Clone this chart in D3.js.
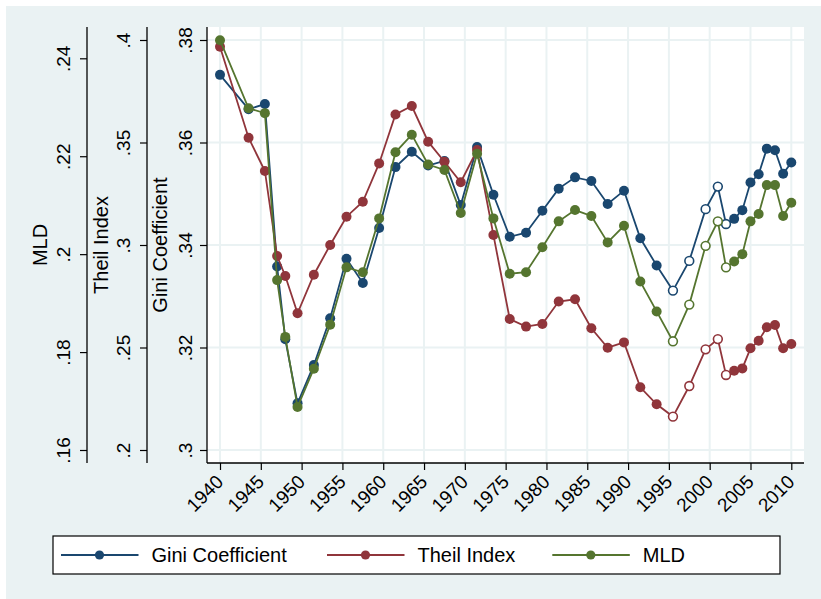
<!DOCTYPE html>
<html><head><meta charset="utf-8">
<script src="https://cdn.jsdelivr.net/npm/d3@7"></script>
<style>
body{margin:0;background:#fff}
svg{display:block}
text{font-family:"Liberation Sans", Arial, Helvetica, sans-serif; fill:#000}
</style>
</head><body>
<svg id="c" width="821" height="599"></svg>
<script>
// ---- data ----
const years = [1940, 1943.5, 1945.5, 1947, 1948, 1949.5, 1951.5, 1953.5, 1955.5, 1957.5, 1959.5, 1961.5,
  1963.5, 1965.5, 1967.5, 1969.5, 1971.5, 1973.5, 1975.5, 1977.5, 1979.5, 1981.5, 1983.5, 1985.5,
  1987.5, 1989.5, 1991.5, 1993.5, 1995.5, 1997.5, 1999.5, 2001, 2002, 2003, 2004, 2005, 2006, 2007,
  2008, 2009, 2010];
const gini = [0.3732, 0.3665, 0.3675, 0.3358, 0.3216, 0.3091, 0.3166, 0.3257, 0.3373, 0.3326, 0.3433, 0.3552,
  0.3582, 0.3555, 0.3564, 0.3478, 0.3591, 0.3498, 0.3416, 0.3424, 0.3467, 0.3510, 0.3532, 0.3525,
  0.3480, 0.3506, 0.3413, 0.3360, 0.3311, 0.3369, 0.3470, 0.3514, 0.3441, 0.3451, 0.3468, 0.3522, 0.3538, 0.3588,
  0.3585, 0.3539, 0.3561];
const theil = [0.3967, 0.3523, 0.3361, 0.2946, 0.2849, 0.2667, 0.2855, 0.3000, 0.3138, 0.3211, 0.3398, 0.3637,
  0.3678, 0.3504, 0.3406, 0.3306, 0.3463, 0.3049, 0.2639, 0.2602, 0.2615, 0.2724, 0.2735, 0.2594,
  0.2499, 0.2525, 0.2306, 0.2223, 0.2163, 0.2312, 0.2491, 0.2541, 0.2366, 0.2387, 0.2398, 0.2496, 0.2533, 0.2599,
  0.2610, 0.2496, 0.2517];
const mld = [0.2437, 0.2298, 0.2288, 0.1947, 0.1831, 0.1688, 0.1766, 0.1856, 0.1973, 0.1963, 0.2073, 0.2208,
  0.2244, 0.2183, 0.2172, 0.2084, 0.2205, 0.2073, 0.1960, 0.1963, 0.2014, 0.2067, 0.2090, 0.2078,
  0.2024, 0.2058, 0.1944, 0.1883, 0.1822, 0.1897, 0.2017, 0.2067, 0.1973, 0.1985, 0.2000, 0.2067, 0.2082, 0.2141,
  0.2141, 0.2078, 0.2105];
const hollowYears = [1995.5, 1997.5, 1999.5, 2001, 2002];
const xTicks = [1940, 1945, 1950, 1955, 1960, 1965, 1970, 1975, 1980, 1985, 1990, 1995, 2000, 2005, 2010];
const giniTicks = [0.30, 0.32, 0.34, 0.36, 0.38];
const theilTicks = [0.2, 0.25, 0.3, 0.35, 0.4];
const mldTicks = [0.16, 0.18, 0.2, 0.22, 0.24];
const seriesNames = ["Gini Coefficient", "Theil Index", "MLD"];
const seriesColors = ["#1a476f", "#90353b", "#55752f"];

// ---- layout ----
const svg = d3.select("#c");
const P = {left: 207, right: 804, top: 27, bottom: 463};
const bg = "#EAF2F3";
svg.append("rect").attr("x", 6).attr("y", 6).attr("width", 815).attr("height", 593).attr("fill", bg);
svg.append("rect").attr("x", P.left).attr("y", P.top).attr("width", P.right - P.left)
  .attr("height", P.bottom - P.top).attr("fill", "#fff");

const x = d3.scaleLinear().domain([1940, 2010]).range([220, 791.3]);
const yG = d3.scaleLinear().domain([0.30, 0.38]).range([450, 40]);
const yT = d3.scaleLinear().domain([0.2, 0.4]).range([450, 40]);
const yM = d3.scaleLinear().domain([0.16, 0.24]).range([450, 58.3]);

// grid
const grid = svg.append("g").attr("stroke", "#EAF2F3").attr("stroke-width", 2);
grid.selectAll(".v").data(xTicks).join("line")
  .attr("x1", d => x(d)).attr("x2", d => x(d)).attr("y1", P.top).attr("y2", P.bottom);
grid.selectAll(".h").data(giniTicks).join("line")
  .attr("x1", P.left).attr("x2", P.right).attr("y1", d => yG(d)).attr("y2", d => yG(d));

const fmt = d => d3.format("~g")(d).replace(/^0\./, ".");

function yAxis(scale, ticks, xPos, labelOff, title, titleBase) {
  const g = svg.append("g").attr("transform", `translate(${xPos},0)`)
    .call(d3.axisLeft(scale).tickValues(ticks).tickSize(7).tickSizeOuter(0).tickFormat(fmt));
  g.select(".domain").remove();
  g.selectAll(".tick line").attr("stroke", "#000").attr("stroke-width", 1.2);
  g.selectAll(".tick text").attr("transform", "rotate(-90)").attr("x", 0).attr("y", labelOff)
    .attr("dy", null).attr("text-anchor", "middle").attr("font-size", 19)
    .attr("font-family", "Liberation Sans, Arial, sans-serif").attr("fill", "#000");
  g.append("line").attr("x1", 0).attr("x2", 0).attr("y1", P.top).attr("y2", P.bottom)
    .attr("stroke", "#000").attr("stroke-width", 1.3);
  svg.append("text").attr("transform", `translate(${titleBase},245) rotate(-90)`)
    .attr("text-anchor", "middle").attr("font-size", 20).text(title);
}
yAxis(yM, mldTicks, 87, -17, "MLD", 47.3);
yAxis(yT, theilTicks, 147, -17, "Theil Index", 108.3);
yAxis(yG, giniTicks, 207, -15.3, "Gini Coefficient", 166.7);

// x axis
const xg = svg.append("g").attr("transform", `translate(0,${P.bottom})`)
  .call(d3.axisBottom(x).tickValues(xTicks).tickSize(7).tickSizeOuter(0).tickFormat(d3.format("d")));
xg.select(".domain").remove();
xg.selectAll(".tick line").attr("stroke", "#000").attr("stroke-width", 1.2);
xg.selectAll(".tick text").attr("x", null).attr("y", null).attr("dy", null)
  .attr("transform", "translate(4,20) rotate(-45)").attr("text-anchor", "end")
  .attr("font-size", 19).attr("font-family", "Liberation Sans, Arial, sans-serif").attr("fill", "#000");
xg.append("line").attr("x1", P.left).attr("x2", P.right).attr("y1", 0).attr("y2", 0)
  .attr("stroke", "#000").attr("stroke-width", 1.3);

// series
const series = [gini, theil, mld];
const scales = [yG, yT, yM];
series.forEach((vals, i) => {
  const data = years.map((yr, j) => ({yr, v: vals[j], hollow: hollowYears.includes(yr)}));
  const line = d3.line().x(d => x(d.yr)).y(d => scales[i](d.v));
  svg.append("path").datum(data).attr("d", line).attr("fill", "none")
    .attr("stroke", seriesColors[i]).attr("stroke-width", 1.8);
  svg.append("g").selectAll("circle").data(data).join("circle")
    .attr("cx", d => x(d.yr)).attr("cy", d => scales[i](d.v))
    .attr("r", d => d.hollow ? 4.4 : 5)
    .attr("fill", d => d.hollow ? "#fff" : seriesColors[i])
    .attr("stroke", seriesColors[i]).attr("stroke-width", d => d.hollow ? 1.6 : 0);
});

// legend
const lg = svg.append("g");
lg.append("rect").attr("x", 53).attr("y", 536).attr("width", 727).attr("height", 38)
  .attr("fill", "#fff").attr("stroke", "#000").attr("stroke-width", 1.2);
const legX = [61, 327, 552.3];
seriesNames.forEach((nm, i) => {
  const g = lg.append("g").attr("transform", `translate(${legX[i]},555)`);
  g.append("line").attr("x1", 0).attr("x2", 77.5).attr("y1", 0).attr("y2", 0)
    .attr("stroke", seriesColors[i]).attr("stroke-width", 1.8);
  g.append("circle").attr("cx", 38.5).attr("cy", 0).attr("r", 4.6).attr("fill", seriesColors[i]);
  g.append("text").attr("x", 90.5).attr("y", 7).attr("font-size", 20).text(nm);
});
</script>
</body></html>
